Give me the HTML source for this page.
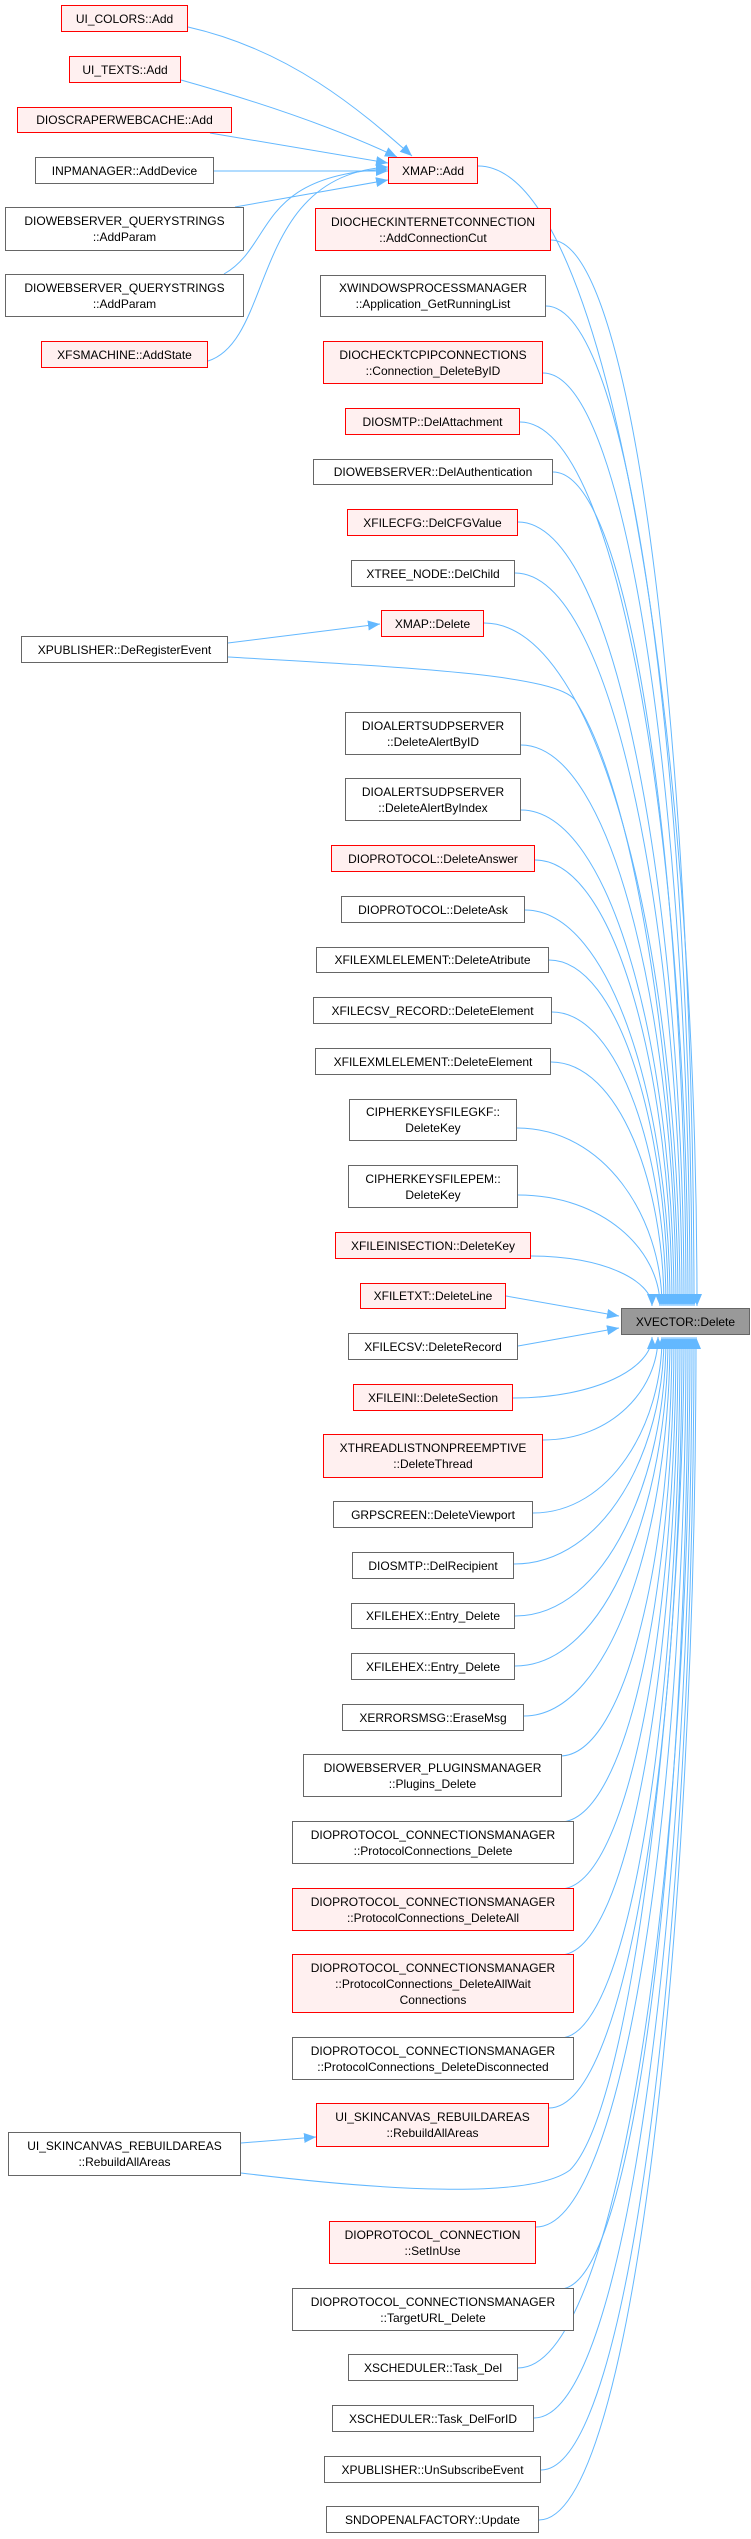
<!DOCTYPE html>
<html><head><meta charset="utf-8">
<style>
html,body{margin:0;padding:0;background:#fff;}
#c{position:relative;width:751px;height:2539px;overflow:hidden;font-family:"Liberation Sans",Arial,sans-serif;font-size:12px;color:#000;}
.n{position:absolute;box-sizing:border-box;border:1px solid #666;background:#fff;display:flex;align-items:center;justify-content:center;text-align:center;line-height:16px;white-space:nowrap;}
.r{border-color:#ff0000;background:#fff0f0;}
.t{border-color:#666;background:#999;}
svg{position:absolute;left:0;top:0;}
</style></head><body><div id="c">
<svg width="751" height="2539" viewBox="0 0 751 2539">
<defs><marker id="a" markerWidth="12" markerHeight="10" refX="12" refY="5" orient="auto" markerUnits="userSpaceOnUse"><path d="M0,0 L12,5 L0,10 z" fill="#63b8ff"/></marker></defs>
<g fill="none" stroke="#63b8ff" stroke-width="1" marker-end="url(#a)">
<path d="M188,27 C290,50 360,110 412,156"/>
<path d="M181,80 C270,105 340,130 397,157"/>
<path d="M210,133 L388,163"/>
<path d="M214,171 L388,171"/>
<path d="M235,207 L388,180"/>
<path d="M224,274 C275,245 255,175 388,169"/>
<path d="M208,361 C275,340 250,175 388,167"/>
<path d="M478,166 C609,166 697,736 697,1306"/>
<path d="M551,240 C637,240 694,773 694,1306"/>
<path d="M546,306 C634,306 692,806 692,1306"/>
<path d="M543,373 C631,373 690,840 690,1306"/>
<path d="M520,422 C621,422 688,864 688,1306"/>
<path d="M553,472 C633,472 686,889 686,1306"/>
<path d="M518,522 C618,522 684,914 684,1306"/>
<path d="M515,573 C615,573 682,940 682,1306"/>
<path d="M484,623 C602,623 680,965 680,1306"/>
<path d="M228,643 L380,624"/>
<path d="M228,657 C420,668 555,675 575,700 C640,800 678,1100 678,1306"/>
<path d="M521,745 C614,745 676,1026 676,1306"/>
<path d="M521,810 C613,810 674,1058 674,1306"/>
<path d="M535,860 C617,860 672,1083 672,1306"/>
<path d="M525,910 C612,910 670,1108 670,1306"/>
<path d="M549,960 C620,960 668,1133 668,1306"/>
<path d="M552,1012 C620,1012 666,1159 666,1306"/>
<path d="M551,1062 C619,1062 664,1184 664,1306"/>
<path d="M517,1128 C604,1128 662,1217 662,1306"/>
<path d="M518,1195 C603,1195 660,1250 660,1306"/>
<path d="M531,1256 C604,1256 652,1281 652,1306"/>
<path d="M506,1296 L619,1316"/>
<path d="M518,1346 L619,1328"/>
<path d="M513,1398 C596,1398 652,1368 652,1337"/>
<path d="M543,1440 C612,1440 658,1389 658,1337"/>
<path d="M533,1513 C610,1513 662,1425 662,1337"/>
<path d="M514,1564 C604,1564 664,1451 664,1337"/>
<path d="M515,1616 C606,1616 666,1477 666,1337"/>
<path d="M515,1666 C607,1666 668,1502 668,1337"/>
<path d="M524,1716 C612,1716 670,1527 670,1337"/>
<path d="M560,1756 C627,1756 672,1547 672,1337"/>
<path d="M560,1822 C628,1822 674,1580 674,1337"/>
<path d="M560,1889 C630,1889 676,1613 676,1337"/>
<path d="M560,1955 C631,1955 678,1646 678,1337"/>
<path d="M560,2038 C632,2038 680,1688 680,1337"/>
<path d="M549,2108 C629,2108 682,1723 682,1337"/>
<path d="M241,2143 L316,2137"/>
<path d="M241,2173 C380,2190 530,2200 570,2170 C640,2100 684,1600 684,1337"/>
<path d="M536,2227 C626,2227 686,1782 686,1337"/>
<path d="M560,2289 C637,2289 688,1813 688,1337"/>
<path d="M518,2368 C621,2368 690,1853 690,1337"/>
<path d="M534,2418 C629,2418 692,1878 692,1337"/>
<path d="M541,2470 C633,2470 694,1904 694,1337"/>
<path d="M539,2520 C633,2520 696,1929 696,1337"/>
</g></svg>
<div class="n r" style="left:61px;top:5px;width:127px;height:27px">UI_COLORS::Add</div>
<div class="n r" style="left:69px;top:56px;width:112px;height:27px">UI_TEXTS::Add</div>
<div class="n r" style="left:17px;top:107px;width:215px;height:26px">DIOSCRAPERWEBCACHE::Add</div>
<div class="n" style="left:35px;top:157px;width:179px;height:27px">INPMANAGER::AddDevice</div>
<div class="n" style="left:5px;top:207px;width:239px;height:44px">DIOWEBSERVER_QUERYSTRINGS<br>::AddParam</div>
<div class="n" style="left:5px;top:274px;width:239px;height:43px">DIOWEBSERVER_QUERYSTRINGS<br>::AddParam</div>
<div class="n r" style="left:41px;top:341px;width:167px;height:27px">XFSMACHINE::AddState</div>
<div class="n r" style="left:388px;top:157px;width:90px;height:27px">XMAP::Add</div>
<div class="n r" style="left:315px;top:208px;width:236px;height:43px">DIOCHECKINTERNETCONNECTION<br>::AddConnectionCut</div>
<div class="n" style="left:320px;top:275px;width:226px;height:42px">XWINDOWSPROCESSMANAGER<br>::Application_GetRunningList</div>
<div class="n r" style="left:323px;top:341px;width:220px;height:43px">DIOCHECKTCPIPCONNECTIONS<br>::Connection_DeleteByID</div>
<div class="n r" style="left:345px;top:408px;width:175px;height:27px">DIOSMTP::DelAttachment</div>
<div class="n" style="left:313px;top:459px;width:240px;height:26px">DIOWEBSERVER::DelAuthentication</div>
<div class="n r" style="left:347px;top:509px;width:171px;height:27px">XFILECFG::DelCFGValue</div>
<div class="n" style="left:351px;top:560px;width:164px;height:27px">XTREE_NODE::DelChild</div>
<div class="n r" style="left:381px;top:610px;width:103px;height:27px">XMAP::Delete</div>
<div class="n" style="left:21px;top:636px;width:207px;height:27px">XPUBLISHER::DeRegisterEvent</div>
<div class="n" style="left:345px;top:712px;width:176px;height:43px">DIOALERTSUDPSERVER<br>::DeleteAlertByID</div>
<div class="n" style="left:345px;top:778px;width:176px;height:43px">DIOALERTSUDPSERVER<br>::DeleteAlertByIndex</div>
<div class="n r" style="left:331px;top:845px;width:204px;height:27px">DIOPROTOCOL::DeleteAnswer</div>
<div class="n" style="left:341px;top:896px;width:184px;height:27px">DIOPROTOCOL::DeleteAsk</div>
<div class="n" style="left:316px;top:947px;width:233px;height:26px">XFILEXMLELEMENT::DeleteAtribute</div>
<div class="n" style="left:313px;top:997px;width:239px;height:27px">XFILECSV_RECORD::DeleteElement</div>
<div class="n" style="left:315px;top:1048px;width:236px;height:27px">XFILEXMLELEMENT::DeleteElement</div>
<div class="n" style="left:349px;top:1099px;width:168px;height:42px">CIPHERKEYSFILEGKF::<br>DeleteKey</div>
<div class="n" style="left:348px;top:1165px;width:170px;height:43px">CIPHERKEYSFILEPEM::<br>DeleteKey</div>
<div class="n r" style="left:335px;top:1232px;width:196px;height:27px">XFILEINISECTION::DeleteKey</div>
<div class="n r" style="left:360px;top:1283px;width:146px;height:26px">XFILETXT::DeleteLine</div>
<div class="n t" style="left:621px;top:1308px;width:129px;height:27px">XVECTOR::Delete</div>
<div class="n" style="left:348px;top:1333px;width:170px;height:27px">XFILECSV::DeleteRecord</div>
<div class="n r" style="left:353px;top:1384px;width:160px;height:27px">XFILEINI::DeleteSection</div>
<div class="n r" style="left:323px;top:1434px;width:220px;height:44px">XTHREADLISTNONPREEMPTIVE<br>::DeleteThread</div>
<div class="n" style="left:333px;top:1501px;width:200px;height:27px">GRPSCREEN::DeleteViewport</div>
<div class="n" style="left:352px;top:1552px;width:162px;height:27px">DIOSMTP::DelRecipient</div>
<div class="n" style="left:351px;top:1603px;width:164px;height:26px">XFILEHEX::Entry_Delete</div>
<div class="n" style="left:351px;top:1653px;width:164px;height:27px">XFILEHEX::Entry_Delete</div>
<div class="n" style="left:342px;top:1704px;width:182px;height:27px">XERRORSMSG::EraseMsg</div>
<div class="n" style="left:303px;top:1754px;width:259px;height:43px">DIOWEBSERVER_PLUGINSMANAGER<br>::Plugins_Delete</div>
<div class="n" style="left:292px;top:1821px;width:282px;height:43px">DIOPROTOCOL_CONNECTIONSMANAGER<br>::ProtocolConnections_Delete</div>
<div class="n r" style="left:292px;top:1888px;width:282px;height:43px">DIOPROTOCOL_CONNECTIONSMANAGER<br>::ProtocolConnections_DeleteAll</div>
<div class="n r" style="left:292px;top:1954px;width:282px;height:59px">DIOPROTOCOL_CONNECTIONSMANAGER<br>::ProtocolConnections_DeleteAllWait<br>Connections</div>
<div class="n" style="left:292px;top:2037px;width:282px;height:43px">DIOPROTOCOL_CONNECTIONSMANAGER<br>::ProtocolConnections_DeleteDisconnected</div>
<div class="n r" style="left:316px;top:2103px;width:233px;height:44px">UI_SKINCANVAS_REBUILDAREAS<br>::RebuildAllAreas</div>
<div class="n" style="left:8px;top:2132px;width:233px;height:44px">UI_SKINCANVAS_REBUILDAREAS<br>::RebuildAllAreas</div>
<div class="n r" style="left:329px;top:2221px;width:207px;height:43px">DIOPROTOCOL_CONNECTION<br>::SetInUse</div>
<div class="n" style="left:292px;top:2288px;width:282px;height:43px">DIOPROTOCOL_CONNECTIONSMANAGER<br>::TargetURL_Delete</div>
<div class="n" style="left:348px;top:2354px;width:170px;height:27px">XSCHEDULER::Task_Del</div>
<div class="n" style="left:332px;top:2405px;width:202px;height:27px">XSCHEDULER::Task_DelForID</div>
<div class="n" style="left:324px;top:2456px;width:217px;height:27px">XPUBLISHER::UnSubscribeEvent</div>
<div class="n" style="left:326px;top:2506px;width:213px;height:27px">SNDOPENALFACTORY::Update</div>
</div></body></html>
